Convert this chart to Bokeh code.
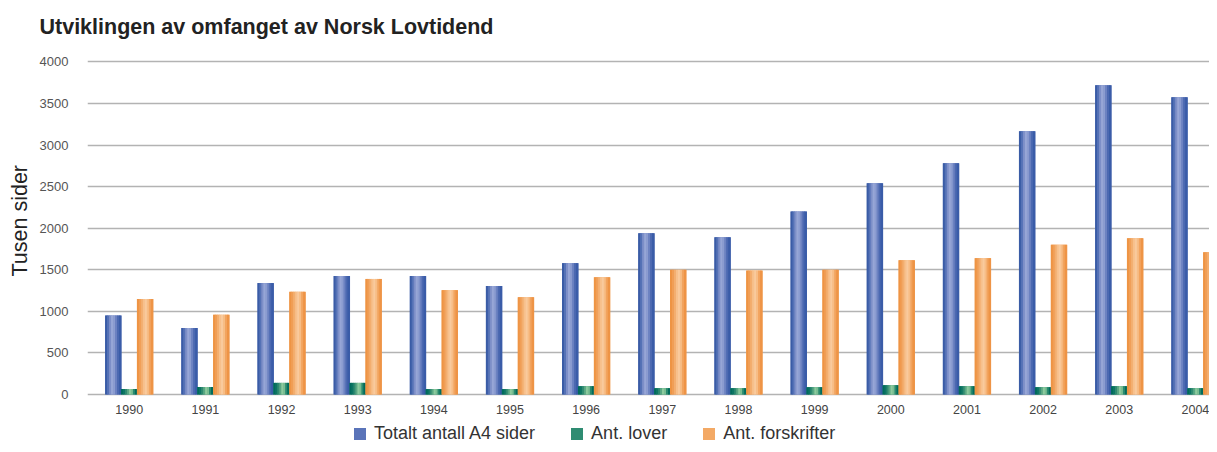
from bokeh.plotting import figure
from bokeh.models import FixedTicker, Legend, LegendItem, ColumnDataSource, Title
from bokeh.core.properties import value
from bokeh.embed import file_html
from bokeh.resources import INLINE

# ---- data ----
years = [1990, 1991, 1992, 1993, 1994, 1995, 1996, 1997, 1998, 1999, 2000, 2001, 2002, 2003, 2004]
year_labels = [str(y) for y in years]
totalt_a4 = [950, 800, 1340, 1425, 1425, 1305, 1580, 1940, 1890, 2200, 2540, 2780, 3165, 3720, 3575]
ant_lover = [65, 90, 140, 140, 65, 65, 100, 76, 76, 88, 112, 100, 88, 100, 76]
ant_forskrifter = [1150, 960, 1235, 1390, 1255, 1170, 1410, 1500, 1490, 1500, 1615, 1640, 1800, 1880, 1710]
series_names = ["Totalt antall A4 sider", "Ant. lover", "Ant. forskrifter"]
y_ticks = [0, 500, 1000, 1500, 2000, 2500, 3000, 3500, 4000]

# ---- styles ----
FONT = "Liberation Sans"
bar_w = 0.209
gradients = [
    ["#3a5ca6", "#5572b6", "#7d8fc8", "#97a6d6", "#8b9cd0", "#6c82c1", "#4c69b1", "#3a5ca8"],
    ["#006b5c", "#0d7563", "#2f8a70", "#5aa883", "#8dcb9e", "#79bd92", "#2a8a6e", "#006b5c"],
    ["#ee9444", "#f09e56", "#f3ae6f", "#f7c08c", "#f9ca9d", "#f7bd86", "#f2a45f", "#ee9446"],
]
legend_colors = ["#5a74b9", "#2f8c72", "#f3a965"]
offsets = [-bar_w, 0.0, bar_w]

p = figure(width=1209, height=444, output_backend="svg", toolbar_location=None,
           x_range=(1989.452, 2004.185), y_range=(-601, 4137),
           x_axis_location=None,
           min_border_left=79, min_border_right=0, min_border_top=50, min_border_bottom=0)

p.title.text = "Utviklingen av omfanget av Norsk Lovtidend"
p.title.text_font = FONT
p.title.text_font_size = "21.5px"
p.title.text_font_style = "bold"
p.title.text_color = "#222222"
p.title.offset = -48
p.title.standoff = 23

p.outline_line_color = None
p.xgrid.grid_line_color = None
p.ygrid.grid_line_color = "#b3b3b3"
p.ygrid.grid_line_width = 1.6
p.ygrid.ticker = FixedTicker(ticks=y_ticks)

p.yaxis.ticker = FixedTicker(ticks=y_ticks)
p.yaxis.axis_line_color = None
p.yaxis.major_tick_line_color = None
p.yaxis.minor_tick_line_color = None
p.yaxis.major_label_text_font = FONT
p.yaxis.major_label_text_font_size = "13px"
p.yaxis.major_label_text_color = "#555555"
p.yaxis.major_label_standoff = 13

ylab = Title(text="Tusen sider", align="left", offset=168, standoff=10,
             text_font=FONT, text_font_size="21.5px", text_font_style="normal",
             text_color="#222222")
p.add_layout(ylab, "left")

# year labels under the bars
p.text(x=years, y=[0] * len(years), text=year_labels, y_offset=15,
       text_align="center", text_baseline="middle",
       text_font=value(FONT), text_font_size=value("12.5px"), text_color="#444444")

values = [totalt_a4, ant_lover, ant_forskrifter]
n = 8
strip_w = bar_w / n
items = []
for name, vals, off, cols, lc in zip(series_names, values, offsets, gradients, legend_colors):
    base = ColumnDataSource(dict(x=[y + off for y in years], top=vals))
    r = p.vbar(x="x", top="top", bottom=0, width=bar_w, source=base,
               fill_color=lc, line_color=None)
    items.append(LegendItem(label=name, renderers=[r]))
    for i, c in enumerate(cols):
        dx = off - bar_w / 2 + strip_w * (i + 0.5)
        src = ColumnDataSource(dict(x=[y + dx for y in years], top=vals))
        p.vbar(x="x", top="top", bottom=0, width=strip_w * 1.3, source=src,
               fill_color=c, line_color=None)

legend = Legend(items=items, orientation="horizontal", location=(265, 0),
                label_text_font=FONT, label_text_font_size="18px", label_text_color="#333333",
                glyph_width=15, glyph_height=15, label_height=17, label_standoff=7,
                spacing=34, padding=0, margin=0, border_line_color=None,
                background_fill_alpha=0)
p.add_layout(legend, "center")

open("out.html", "w").write(file_html(p, INLINE))
